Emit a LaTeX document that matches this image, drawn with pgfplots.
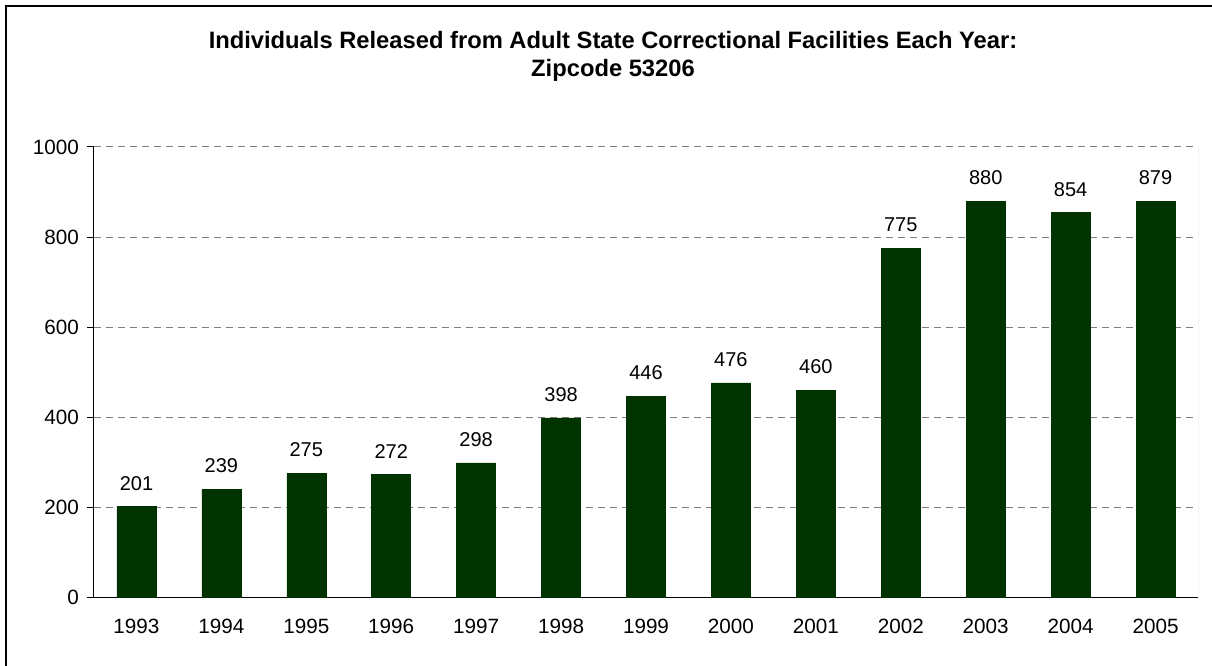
\documentclass[border=0pt]{standalone}
\usepackage{fontspec}
\setmainfont{Liberation Sans}
\usepackage{pgfplots}
\pgfplotsset{compat=1.18}

\definecolor{bargreen}{RGB}{0,51,0}
\definecolor{gridgray}{RGB}{128,128,128}

\begin{document}
\begin{tikzpicture}
	% page: 1212x665 px at 0.75pt per px
	\useasboundingbox (-70.5pt,-51pt) rectangle (838.5pt,447.75pt);
	\draw[line width=1.5pt] (-66pt,-60pt) -- (-66pt,443.25pt) -- (850pt,443.25pt);
	\node[anchor=base,font=\fontsize{17.8}{20}\selectfont\bfseries] at (389.25pt,411pt)
		{Individuals Released from Adult State Correctional Facilities Each Year:};
	\node[anchor=base,font=\fontsize{17.8}{20}\selectfont\bfseries] at (389.25pt,390pt)
		{Zipcode 53206};
	\begin{axis}[
		scale only axis,
		width=828pt, height=337.5pt,
		at={(0pt,0pt)}, anchor=south west,
		ybar, bar width=29.25pt,
		xmin=-0.5, xmax=12.5,
		ymin=0, ymax=1000,
		ytick={0,200,...,1000},
		xtick={0,...,12},
		xticklabels={1993,1994,1995,1996,1997,1998,1999,2000,2001,2002,2003,2004,2005},
		minor xtick={-0.5,0.5,...,12.5},
		xtick style={draw=none},
		minor x tick style={black, line width=0.75pt},
		ytick style={black, line width=0.75pt},
		major tick length=5.25pt,
		minor tick length=5.25pt,
		tick align=outside,
		axis lines*=left,
		axis line style={-, black, line width=0.75pt},
		ymajorgrids,
		major grid style={gridgray, line width=0.75pt, dash pattern=on 5.25pt off 3.75pt},
		tick label style={font=\fontsize{15.5}{18}\selectfont},
		yticklabel style={xshift=-2.5pt},
		xticklabel style={yshift=-8pt},
		/pgf/number format/assume math mode=true,
		/pgf/number format/1000 sep={},
		nodes near coords,
		every node near coord/.append style={font=\fontsize{15}{18}\selectfont, inner sep=0pt, yshift=12pt},
		]
		\addplot[fill=bargreen, draw=bargreen] coordinates {
			(0,201) (1,239) (2,275) (3,272) (4,298) (5,398) (6,446)
			(7,476) (8,460) (9,775) (10,880) (11,854) (12,879)};
		\draw[gridgray!70, line width=0.75pt] (axis cs:12.5,0) -- (axis cs:12.5,1000);
	\end{axis}
\end{tikzpicture}
\end{document}
